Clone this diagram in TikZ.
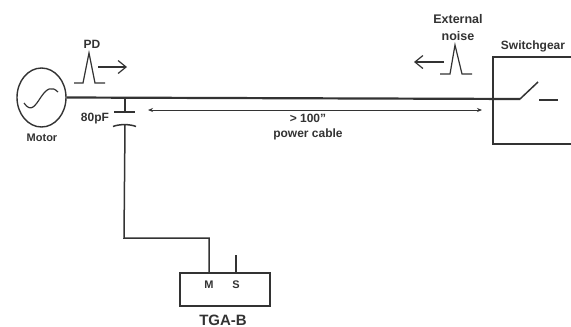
\documentclass[tikz,border=0pt]{standalone}
\usepackage{fontspec}
\setmainfont{Liberation Sans}
\usetikzlibrary{arrows.meta,shapes.geometric}
\definecolor{ink}{HTML}{333333}
\tikzset{
  wire/.style={draw=ink,line width=1.5pt},
  cable/.style={draw=ink,line width=2.2pt},
  thin wire/.style={draw=ink,line width=1.2pt},
  flow/.style={draw=ink,line width=1.2pt,-{Straight Barb[length=8pt,width=13pt,line width=1.2pt]}},
  span/.style={draw=ink,line width=0.9pt,{Stealth[length=5pt,width=4pt]}-{Stealth[length=5pt,width=4pt]}},
  lbl/.style={inner sep=0pt,text=ink,align=center,font=\fontsize{12}{14}\selectfont\bfseries},
  lblsm/.style={lbl,font=\fontsize{11}{13}\selectfont\bfseries}
}
\begin{document}
\begin{tikzpicture}[x=1pt,y=-1pt]
\useasboundingbox[fill=white] (0,0) rectangle (571,327);
% motor
\node[draw=ink,line width=1.4pt,ellipse,minimum width=49pt,minimum height=59pt,inner sep=0pt] (motor) at (41.5,97.5) {};
\draw[thin wire] (24,103) .. controls (31,113) and (35,106) .. (41,97) .. controls (47,88) and (52,86) .. (58,92);
\node[lblsm] (motorlbl) at (42,138) {Motor};
% switchgear
\coordinate (sgtr) at (571,57);
\coordinate (sgbr) at (571,144);
\draw[wire] (sgtr) -- (493,57) -- (493,144) -- (sgbr);
\coordinate (contact) at (520,99);
\coordinate (blade) at (538,82);
\coordinate (fixa) at (539,100);
\coordinate (fixb) at (558,100);
\draw[cable] (motor.east) -- (contact);
\draw[wire] (contact) -- (blade);
\draw[line width=1.8pt,draw=ink] (fixa) -- (fixb);
\node[lbl] (sglbl) at (533,46) {Switchgear};
% capacitor
\coordinate (captap) at (125,98);
\coordinate (plateA) at (125,112);
\coordinate (plateB) at (125,125);
\coordinate (corner) at (124,238);
\coordinate (mtop) at (209,238);
\draw[wire] (captap) -- (plateA);
\draw[wire] (114,112) -- (135,112);
\draw[wire] (113,126.5) .. controls (119,124) and (130,124) .. (136,126.5);
\node[lbl] (caplbl) at (95,119) {80pF};
% instrument
\node[draw=ink,line width=1.5pt,minimum width=90pt,minimum height=33pt,inner sep=0pt] (tga) at (225,289.5) {};
\coordinate (mport) at (209,273);
\coordinate (sport) at (236,273);
\coordinate (sstub) at (236,255);
\draw[wire] (plateB) -- (corner) -- (mtop) -- (mport);
\draw[wire] (sport) -- (sstub);
\node[lblsm] (mlbl) at (209,285) {M};
\node[lblsm] (slbl) at (236,285) {S};
\node[lbl,font=\fontsize{15}{17}\selectfont\bfseries] (tgalbl) at (223,320) {TGA-B};
% span arrow
\coordinate (spanL) at (148,110);
\coordinate (spanR) at (482,110);
\draw[span] (spanL) -- (spanR);
\node[lbl,font=\fontsize{12}{15}\selectfont\bfseries] (cablelbl) at (308,127.5) {> 100"\\power cable};
% PD pulse
\draw[thin wire] (74,83) -- (83,83) -- (89,53) -- (95,83) -- (105,83);
\coordinate (pdA) at (98,67);
\coordinate (pdB) at (127,67);
\draw[flow] (pdA) -- (pdB);
\node[lbl] (pdlbl) at (92,44) {PD};
% noise pulse
\draw[thin wire] (440,74) -- (450,74) -- (455,45) -- (462,74) -- (472,74);
\coordinate (nA) at (444,62);
\coordinate (nB) at (414,62);
\draw[flow] (nA) -- (nB);
\node[lbl,font=\fontsize{12.5}{17}\selectfont\bfseries] (noiselbl) at (458,28) {External\\noise};
\end{tikzpicture}
\end{document}
